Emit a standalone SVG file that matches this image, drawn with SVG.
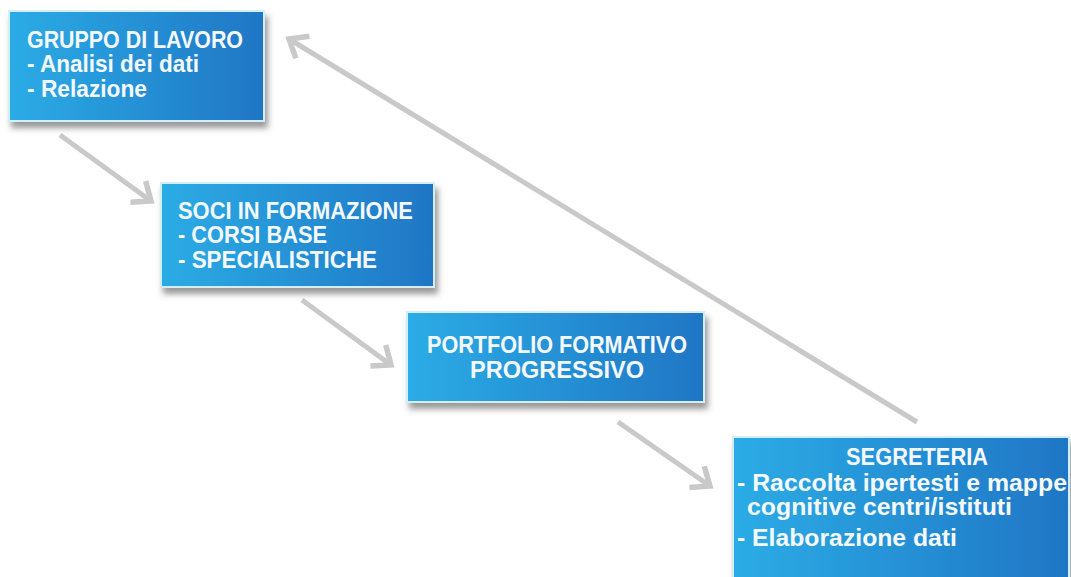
<svg xmlns="http://www.w3.org/2000/svg" width="1071" height="577" viewBox="0 0 1071 577">
<defs>
<linearGradient id="boxGrad" x1="0" y1="0" x2="1" y2="0">
<stop offset="0" stop-color="#2cace6"/>
<stop offset="1" stop-color="#1f76c5"/>
</linearGradient>
<filter id="shadow" x="-10%" y="-10%" width="125%" height="140%">
<feDropShadow dx="3" dy="6" stdDeviation="3" flood-color="#444" flood-opacity="0.55"/>
</filter>
<marker id="chev" markerUnits="userSpaceOnUse" markerWidth="40" markerHeight="40" refX="0" refY="0" orient="auto" overflow="visible">
<path d="M-16,-13 L0,0 L-16,13" fill="none" stroke="#c9c9c9" stroke-width="5.5" stroke-linejoin="miter"/>
</marker>
</defs>
<style>
.box{fill:url(#boxGrad);stroke:#d4eef9;stroke-width:2;filter:url(#shadow);}
.t{font-family:"Liberation Sans Narrow","Liberation Sans",Arial,sans-serif;font-weight:bold;font-size:23px;fill:#f4f9fd;}
.c{fill:none;stroke:#c9c9c9;stroke-width:5;marker-end:url(#chev);}
</style>
<rect width="1071" height="577" fill="#ffffff"/>
<g id="connectors">
<line class="c" x1="60" y1="135" x2="151" y2="201"/>
<line class="c" x1="302" y1="300" x2="391" y2="365"/>
<line class="c" x1="618" y1="422" x2="710" y2="486"/>
<line class="c" x1="917" y1="422" x2="289" y2="39"/>
</g>
<g id="node-gruppo">
<rect class="box" x="9" y="11" width="255" height="110"/>
<text class="t" x="27" y="48" textLength="216" lengthAdjust="spacingAndGlyphs">GRUPPO DI LAVORO</text>
<text class="t" x="27" y="72" textLength="172" lengthAdjust="spacingAndGlyphs">- Analisi dei dati</text>
<text class="t" x="27" y="97" textLength="120" lengthAdjust="spacingAndGlyphs">- Relazione</text>
</g>
<g id="node-soci">
<rect class="box" x="161" y="183" width="273" height="104"/>
<text class="t" x="178" y="219" textLength="235" lengthAdjust="spacingAndGlyphs">SOCI IN FORMAZIONE</text>
<text class="t" x="178" y="243" textLength="149" lengthAdjust="spacingAndGlyphs">- CORSI BASE</text>
<text class="t" x="178" y="268" textLength="199" lengthAdjust="spacingAndGlyphs">- SPECIALISTICHE</text>
</g>
<g id="node-portfolio">
<rect class="box" x="407" y="312" width="297" height="90"/>
<text class="t" x="427" y="353" textLength="260" lengthAdjust="spacingAndGlyphs">PORTFOLIO FORMATIVO</text>
<text class="t" x="470" y="378" textLength="174" lengthAdjust="spacingAndGlyphs">PROGRESSIVO</text>
</g>
<g id="node-segreteria">
<rect class="box" x="733" y="437" width="336" height="145"/>
<text class="t" x="846" y="465" textLength="142" lengthAdjust="spacingAndGlyphs">SEGRETERIA</text>
<text class="t" x="737" y="491" textLength="330" lengthAdjust="spacingAndGlyphs">- Raccolta ipertesti e mappe</text>
<text class="t" x="747" y="515" textLength="265" lengthAdjust="spacingAndGlyphs">cognitive centri/istituti</text>
<text class="t" x="737" y="546" textLength="220" lengthAdjust="spacingAndGlyphs">- Elaborazione dati</text>
</g>
</svg>
